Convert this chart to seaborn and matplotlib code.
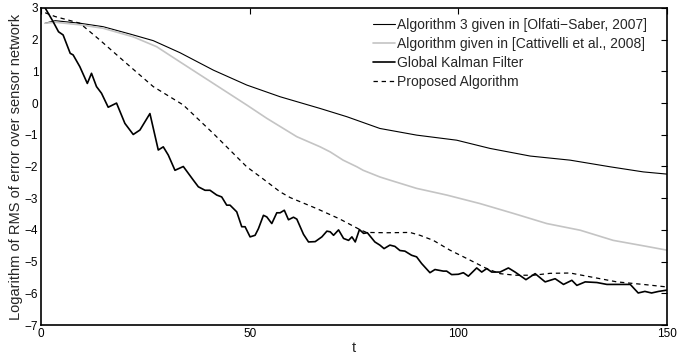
import matplotlib
matplotlib.use("Agg")
import matplotlib.pyplot as plt
import seaborn as sns

# ---- data ----
t_olfati = [1, 3.4, 9.3, 14.9, 21.3, 26.9, 33.3, 41.3, 49.3, 57.3, 66.9,
            73.3, 81.2, 90, 99.6, 107.6, 117.2, 126.8, 136.4, 144.3, 150]
y_olfati = [2.52, 2.6, 2.52, 2.41, 2.18, 1.97, 1.59, 1.04, 0.57, 0.20, -0.17,
            -0.43, -0.80, -1.01, -1.17, -1.43, -1.67, -1.80, -2.01, -2.17, -2.24]

t_catt = [1, 3.4, 9.3, 14.9, 22.1, 27.7, 33.3, 41.3, 49.3, 54.1, 61.3, 66.9, 69.3,
          72.4, 75.7, 77.2, 81.2, 83.6, 90, 97.2, 105.2, 113.2, 121.2, 129.2, 137.1, 145.1, 150]
y_catt = [2.52, 2.55, 2.47, 2.36, 2.09, 1.78, 1.30, 0.62, -0.06, -0.48, -1.06, -1.38, -1.54,
          -1.80, -2.01, -2.12, -2.33, -2.43, -2.69, -2.90, -3.17, -3.48, -3.80, -4.01, -4.33, -4.52, -4.64]

t_kalman = [1, 2.9, 4.2, 5.3, 7.0, 7.7, 9.3, 11.1, 12.1, 13.3, 14.5, 16.1, 18.1, 20.1, 22.1,
            23.7, 26.1, 28.1, 29.3, 30.5, 32.1, 34.1, 36.5, 37.7, 39.3, 40.5, 42.1, 43.3,
            44.5, 45.3, 46.9, 48.1, 48.9, 50.1, 51.3, 52.1, 53.3, 54.1, 55.3, 56.5, 57.3,
            58.3, 59.3, 60.5, 61.3, 62.9, 64.1, 65.7, 67.3, 68.5, 69.3, 70.1, 71.3, 72.5,
            73.7, 74.5, 75.3, 76.3, 77.3, 78.2, 80.0, 81.2, 82.2, 83.6, 84.8, 86.0, 87.2,
            88.8, 90.0, 91.2, 93.2, 94.4, 96.4, 97.2, 98.4, 100.0, 101.2, 102.4, 104.4,
            105.6, 106.8, 108.0, 110.0, 112.0, 113.6, 116.2, 118.4, 120.8, 123.2, 125.2,
            127.2, 128.4, 130.4, 133.2, 135.6, 138.3, 141.2, 143.1, 144.7, 146.3, 148, 150]
y_kalman = [3.0, 2.57, 2.25, 2.15, 1.57, 1.52, 1.15, 0.62, 0.94, 0.52, 0.31, -0.13, 0.0, -0.64,
            -0.99, -0.85, -0.33, -1.48, -1.38, -1.64, -2.12, -2.0, -2.43, -2.64, -2.75, -2.75,
            -2.90, -2.96, -3.22, -3.22, -3.43, -3.9, -3.9, -4.22, -4.17, -3.96, -3.54, -3.59,
            -3.80, -3.46, -3.46, -3.38, -3.68, -3.60, -3.66, -4.14, -4.38, -4.37, -4.22, -4.04,
            -4.06, -4.17, -4.0, -4.27, -4.33, -4.22, -4.38, -3.99, -4.11, -4.09, -4.38, -4.48,
            -4.59, -4.48, -4.52, -4.65, -4.67, -4.80, -4.85, -5.06, -5.35, -5.25, -5.30, -5.30,
            -5.41, -5.40, -5.35, -5.46, -5.20, -5.33, -5.22, -5.33, -5.33, -5.20, -5.33, -5.57,
            -5.38, -5.64, -5.54, -5.72, -5.59, -5.75, -5.64, -5.66, -5.72, -5.72, -5.72, -5.99,
            -5.94, -5.99, -5.94, -5.90]

t_prop = [1, 3.4, 9.3, 14.1, 20.5, 26.9, 34.1, 41.3, 49.3, 53.3, 57.3, 59.7, 66.1,
          71.5, 76.4, 78.0, 83.0, 88.4, 90.8, 94, 98, 102, 106.8, 110, 113.6, 118, 122,
          126.8, 131.6, 138, 144.3, 150]
y_prop = [2.85, 2.73, 2.52, 1.99, 1.25, 0.52, -0.06, -0.96, -2.01, -2.40, -2.80, -2.98,
          -3.33, -3.65, -3.99, -4.08, -4.09, -4.08, -4.17, -4.33, -4.64, -4.90, -5.22, -5.38,
          -5.43, -5.43, -5.37, -5.36, -5.48, -5.64, -5.72, -5.80]

labels = ["Algorithm 3 given in [Olfati\u2212Saber, 2007]",
          "Algorithm given in [Cattivelli et al., 2008]",
          "Global Kalman Filter",
          "Proposed Algorithm"]
x_ticks = [0, 50, 100, 150]
y_ticks = [-7, -6, -5, -4, -3, -2, -1, 0, 1, 2, 3]

# ---- plotting ----
sns.set_style("white")
plt.rcParams["font.family"] = ["Liberation Sans", "DejaVu Sans"]
plt.rcParams["axes.unicode_minus"] = True

fig = plt.figure(figsize=(6.77, 3.56), dpi=100)
ax = fig.add_axes([41 / 677, 31 / 356, 626 / 677, 317 / 356])

sns.lineplot(x=t_olfati, y=y_olfati, ax=ax, color="black", linewidth=0.8, label=labels[0])
sns.lineplot(x=t_catt, y=y_catt, ax=ax, color="#c4c4c4", linewidth=1.2, label=labels[1])
sns.lineplot(x=t_kalman, y=y_kalman, ax=ax, color="black", linewidth=1.2, label=labels[2])
sns.lineplot(x=t_prop, y=y_prop, ax=ax, color="black", linewidth=0.9,
             linestyle=(0, (3.5, 3.0)), label=labels[3])

ax.set_xlim(0, 150)
ax.set_ylim(-7, 3)
ax.set_xticks(x_ticks)
ax.set_yticks(y_ticks)
ax.tick_params(direction="in", top=True, right=True, length=4, width=0.8,
               labelsize=8.5, pad=2, colors="black")
for s in ax.spines.values():
    s.set_visible(True)
    s.set_color("black")
    s.set_linewidth(1.2)

ax.set_xlabel("t", fontsize=10.5, labelpad=1)
ax.set_ylabel("Logarithm of RMS of error over sensor network", fontsize=10.5, labelpad=1)

leg = ax.legend(loc="upper right", frameon=False, fontsize=10, handlelength=1.6,
                handletextpad=0.15, labelspacing=0.35, borderaxespad=0.0,
                bbox_to_anchor=(0.977, 0.986))

fig.savefig("out.png", dpi=100)
